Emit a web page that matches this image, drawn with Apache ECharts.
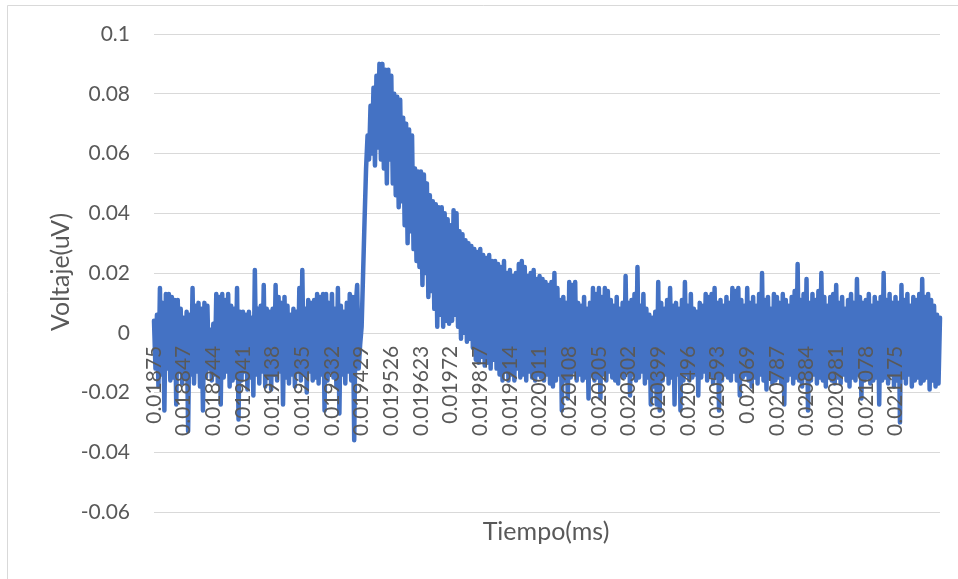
<!DOCTYPE html>
<html>
<head>
<meta charset="utf-8">
<script src="https://cdn.jsdelivr.net/npm/echarts@6/dist/echarts.min.js"></script>
<style>
  html, body { margin: 0; padding: 0; background: #ffffff; }
  #chart { width: 958px; height: 579px; }
</style>
</head>
<body>
<div id="chart"></div>
<script>
// Time axis tick labels (ms), one every 20 samples
const tickLabels = [
  "0.01875", "0.018847", "0.018944", "0.019041", "0.019138", "0.019235",
  "0.019332", "0.019429", "0.019526", "0.019623", "0.01972", "0.019817",
  "0.019914", "0.020011", "0.020108", "0.020205", "0.020302", "0.020399",
  "0.020496", "0.020593", "0.02069", "0.020787", "0.020884", "0.020981",
  "0.021078", "0.021175"
];
const startTime = 0.01875;
const sampleStep = 0.00000485;
const samplesPerTick = 20;

// Voltage axis range (uV)
const yMin = -0.06;
const yMax = 0.1;
const yStep = 0.02;

// Measured voltage (uV), one row per labelled interval
const voltage = [
  0.004, -0.012, 0.006, -0.018, 0.015, -0.014, 0.010, -0.026, 0.013, -0.012, 0.013, -0.016, 0.012, -0.015, 0.011, -0.024, 0.011, -0.013, 0.008, -0.017,
  0.005, -0.015, 0.007, -0.033, 0.006, -0.014, 0.015, -0.017, 0.009, -0.013, 0.010, -0.018, 0.008, -0.026, 0.010, -0.015, 0.009, -0.012, 0.001, -0.016,
  0.003, -0.014, 0.013, -0.017, 0.012, -0.024, 0.013, -0.015, 0.011, -0.013, 0.013, -0.018, 0.009, -0.016, 0.008, -0.015, 0.015, -0.029, 0.007, -0.016,
  0.007, -0.013, 0.006, -0.019, 0.007, -0.015, 0.005, -0.021, 0.021, -0.014, 0.008, -0.017, 0.009, -0.013, 0.016, -0.018, 0.008, -0.015, 0.007, -0.019,
  0.008, -0.014, 0.016, -0.016, 0.012, -0.013, 0.010, -0.024, 0.012, -0.015, 0.009, -0.017, 0.006, -0.014, 0.008, -0.018, 0.007, -0.013, 0.015, -0.016,
  0.021, -0.014, 0.008, -0.020, 0.011, -0.013, 0.010, -0.016, 0.011, -0.015, 0.013, -0.017, 0.012, -0.014, 0.013, -0.026, 0.013, -0.016, 0.010, -0.013,
  0.013, -0.015, 0.008, -0.018, 0.015, -0.027, 0.009, -0.014, 0.007, -0.017, 0.010, -0.013, 0.013, -0.016, 0.012, -0.036, 0.009, 0.016, -0.012, -0.004,
  0.002, 0.020, 0.038, 0.055, 0.066, 0.058, 0.076, 0.060, 0.082, 0.056, 0.086, 0.062, 0.090, 0.058, 0.090, 0.055, 0.088, 0.050, 0.088, 0.058,
  0.086, 0.050, 0.080, 0.046, 0.079, 0.042, 0.078, 0.044, 0.072, 0.036, 0.070, 0.030, 0.068, 0.034, 0.066, 0.028, 0.055, 0.024, 0.054, 0.022,
  0.054, 0.016, 0.053, 0.020, 0.050, 0.012, 0.046, 0.014, 0.044, 0.008, 0.043, 0.002, 0.042, 0.006, 0.042, 0.002, 0.040, 0.004, 0.038, 0.003,
  0.036, 0.004, 0.041, 0.006, 0.040, 0.002, 0.034, -0.002, 0.033, 0.000, 0.031, -0.003, 0.030, -0.002, 0.029, -0.005, 0.028, -0.009, 0.027, -0.010,
  0.028, -0.008, 0.026, -0.011, 0.025, -0.010, 0.026, -0.012, 0.024, -0.009, 0.024, -0.012, 0.023, -0.014, 0.022, -0.016, 0.024, -0.013, 0.020, -0.016,
  0.021, -0.014, 0.019, -0.016, 0.020, -0.012, 0.023, -0.015, 0.024, -0.014, 0.022, -0.016, 0.019, -0.013, 0.020, -0.015, 0.021, -0.016, 0.018, -0.014,
  0.019, -0.015, 0.018, -0.016, 0.017, -0.014, 0.016, -0.017, 0.017, -0.018, 0.020, -0.016, 0.015, -0.014, 0.011, -0.026, 0.012, -0.016, 0.010, -0.022,
  0.017, -0.015, 0.016, -0.013, 0.017, -0.016, 0.010, -0.014, 0.009, -0.016, 0.012, -0.015, 0.008, -0.022, 0.010, -0.014, 0.015, -0.016, 0.013, -0.015,
  0.015, -0.022, 0.012, -0.014, 0.015, -0.016, 0.014, -0.013, 0.011, -0.015, 0.009, -0.016, 0.012, -0.017, 0.008, -0.014, 0.010, -0.015, 0.019, -0.013,
  0.010, -0.021, 0.011, -0.014, 0.013, -0.016, 0.022, -0.015, 0.009, -0.013, 0.013, -0.017, 0.008, -0.015, 0.006, -0.024, 0.005, -0.018, 0.007, -0.024,
  0.017, -0.026, 0.010, -0.016, 0.008, -0.014, 0.011, -0.017, 0.015, -0.015, 0.009, -0.024, 0.010, -0.014, 0.008, -0.026, 0.011, -0.016, 0.017, -0.014,
  0.009, -0.016, 0.013, -0.015, 0.008, -0.014, 0.007, -0.021, 0.010, -0.015, 0.009, -0.013, 0.013, -0.016, 0.012, -0.014, 0.013, -0.017, 0.015, -0.015,
  0.010, -0.026, 0.011, -0.016, 0.009, -0.014, 0.012, -0.015, 0.010, -0.016, 0.015, -0.013, 0.014, -0.016, 0.015, -0.021, 0.011, -0.015, 0.009, -0.014,
  0.015, -0.016, 0.010, -0.018, 0.012, -0.015, 0.009, -0.017, 0.013, -0.014, 0.020, -0.016, 0.011, -0.019, 0.012, -0.015, 0.008, -0.017, 0.013, -0.016,
  0.012, -0.015, 0.010, -0.017, 0.013, -0.024, 0.011, -0.016, 0.009, -0.014, 0.012, -0.017, 0.014, -0.015, 0.023, -0.016, 0.011, -0.018, 0.013, -0.015,
  0.018, -0.026, 0.010, -0.016, 0.013, -0.014, 0.011, -0.017, 0.014, -0.015, 0.020, -0.016, 0.012, -0.018, 0.009, -0.015, 0.012, -0.016, 0.013, -0.017,
  0.016, -0.015, 0.010, -0.017, 0.012, -0.014, 0.008, -0.016, 0.011, -0.018, 0.013, -0.015, 0.010, -0.016, 0.018, -0.014, 0.012, -0.022, 0.010, -0.016,
  0.011, -0.015, 0.013, -0.017, 0.009, -0.016, 0.012, -0.015, 0.010, -0.024, 0.012, -0.016, 0.020, -0.015, 0.011, -0.017, 0.013, -0.014, 0.010, -0.018,
  0.012, -0.016, 0.010, -0.030, 0.016, -0.015, 0.011, -0.017, 0.013, -0.014, 0.009, -0.018, 0.012, -0.016, 0.011, -0.015, 0.013, -0.017, 0.018, -0.016,
  0.012, -0.015, 0.013, -0.019, 0.011, -0.016, 0.009, -0.018, 0.006, -0.017, 0.005
];

// Sample times; each labelled position uses its printed label
const times = voltage.map(function (v, i) {
  if (i % samplesPerTick === 0 && i / samplesPerTick < tickLabels.length) {
    return tickLabels[i / samplesPerTick];
  }
  return (startTime + i * sampleStep).toFixed(7);
});

const textColor = '#595959';
const gridColor = '#D9D9D9';
const fontFamily = 'Lato, "Open Sans", sans-serif';

const gridTop = 34;
const gridBottom = 67;
const chartHeight = 579;
const plotHeight = chartHeight - gridTop - gridBottom;
// Category labels hang from the zero line, so shift the axis up to y = 0
const zeroOffset = -plotHeight * (0 - yMin) / (yMax - yMin);

const chart = echarts.init(document.getElementById('chart'), null, { renderer: 'canvas' });

chart.setOption({
  animation: false,
  backgroundColor: '#ffffff',
  grid: {
    left: 154, right: 18, top: gridTop, bottom: gridBottom,
    containLabel: false,
    outerBoundsMode: 'none'
  },
  xAxis: {
    type: 'category',
    data: times,
    boundaryGap: false,
    z: 10,
    offset: zeroOffset,
    axisLine: { show: false, onZero: false },
    axisTick: { show: false },
    splitLine: { show: false },
    axisLabel: {
      interval: function (index) {
        return index % samplesPerTick === 0 && index / samplesPerTick < tickLabels.length;
      },
      rotate: 90,
      margin: 13,
      color: textColor,
      fontSize: 21,
      fontFamily: fontFamily
    }
  },
  yAxis: {
    type: 'value',
    min: yMin,
    max: yMax,
    interval: yStep,
    axisLine: { show: false },
    axisTick: { show: false },
    splitLine: { show: true, lineStyle: { color: gridColor, width: 1 } },
    axisLabel: {
      margin: 24,
      color: textColor,
      fontSize: 21,
      fontFamily: fontFamily,
      formatter: function (v) { return String(+v.toFixed(2)); }
    }
  },
  series: [{
    type: 'line',
    data: voltage,
    showSymbol: false,
    sampling: null,
    lineStyle: { color: '#4472C4', width: 4.5, cap: 'round', join: 'round' },
    itemStyle: { color: '#4472C4' },
    z: 2
  }],
  graphic: [
    {
      type: 'rect',
      shape: { x: 7.5, y: 5.5, width: 960, height: 590 },
      style: { fill: 'none', stroke: gridColor, lineWidth: 1 },
      silent: true,
      z: -10
    },
    {
      type: 'text',
      x: 61, y: 272,
      rotation: Math.PI / 2,
      style: {
        text: 'Voltaje(uV)',
        x: 0, y: 0,
        fill: textColor,
        font: '25px ' + fontFamily,
        textAlign: 'center', textVerticalAlign: 'middle',
        align: 'center', verticalAlign: 'middle'
      },
      silent: true
    },
    {
      type: 'text',
      x: 546, y: 532,
      style: {
        text: 'Tiempo(ms)',
        x: 0, y: 0,
        fill: textColor,
        font: '25px ' + fontFamily,
        textAlign: 'center', textVerticalAlign: 'middle',
        align: 'center', verticalAlign: 'middle'
      },
      silent: true
    }
  ]
});
</script>
</body>
</html>
